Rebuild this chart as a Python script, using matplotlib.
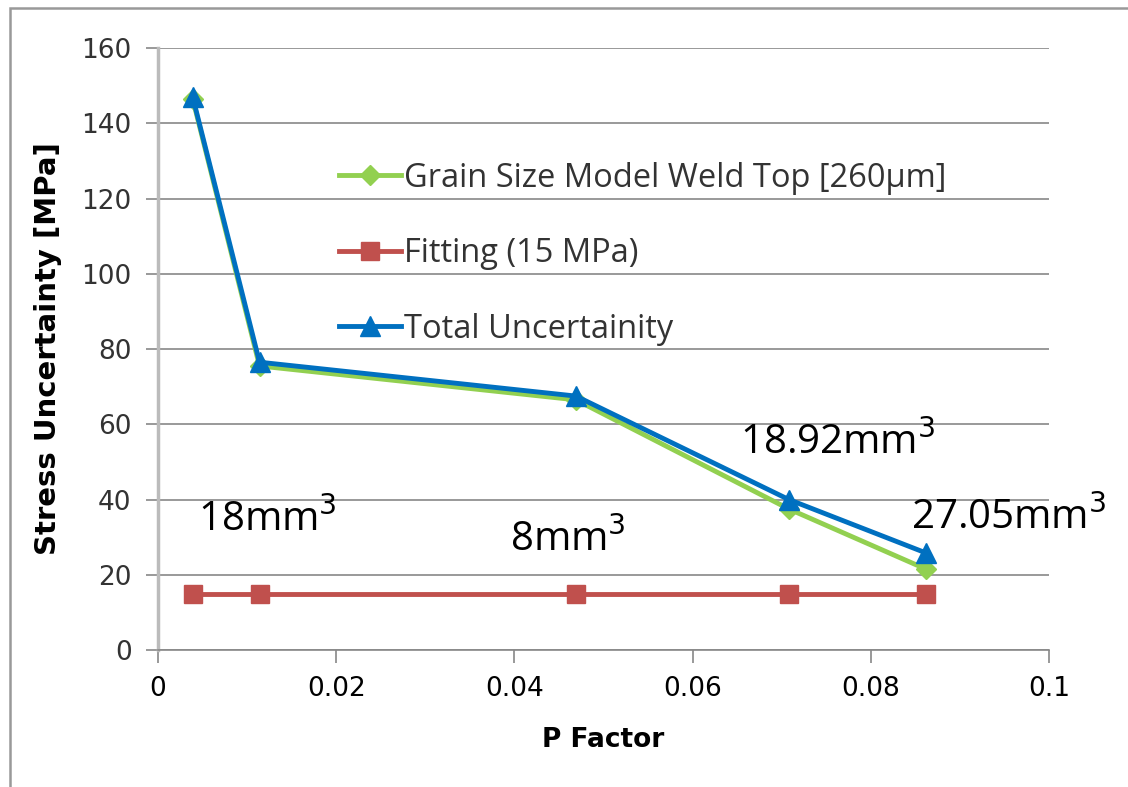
import matplotlib.pyplot as plt
from matplotlib.patches import Rectangle

# values
p_factor = [0.0039, 0.0114, 0.0469, 0.0708, 0.0862]
grain_size = [146.5, 75.5, 66.5, 37.5, 21.5]
fitting = [15, 15, 15, 15, 15]
total = [147.0, 76.5, 67.5, 40.0, 25.8]

volume_labels = ["18mm$^3$", "8mm$^3$", "18.92mm$^3$", "27.05mm$^3$"]
volume_pos = [(0.0045, 34.5), (0.0395, 29), (0.0653, 55), (0.0845, 35)]

y_ticks = [0, 20, 40, 60, 80, 100, 120, 140, 160]
x_ticks = [0, 0.02, 0.04, 0.06, 0.08, 0.1]
x_ticklabels = ["0", "0.02", "0.04", "0.06", "0.08", "0.1"]

fig = plt.figure(figsize=(11.28, 7.87), dpi=100)
ax = fig.add_axes([0.140, 0.174, 0.790, 0.765])

ax.plot(p_factor, grain_size, color="#92D050", lw=3.5, marker="D", ms=10,
        label="Grain Size Model Weld Top [260µm]", zorder=3)
ax.plot(p_factor, fitting, color="#C0504D", lw=3.5, marker="s", ms=13,
        label="Fitting (15 MPa)", zorder=3)
ax.plot(p_factor, total, color="#0070C0", lw=3.5, marker="^", ms=15,
        label="Total Uncertainity", zorder=4)

for txt, (x, y) in zip(volume_labels, volume_pos):
    ax.text(x, y, txt, fontsize=29, family="Open Sans", va="center", ha="left")

ax.set_xlim(0, 0.1)
ax.set_ylim(0, 160)
ax.set_yticks(y_ticks)
ax.set_xticks(x_ticks)
ax.set_xticklabels(x_ticklabels, fontsize=19)
for lab in ax.get_yticklabels():
    lab.set_fontsize(19)
    lab.set_family("DejaVu Sans")
    lab.set_color("#333333")

ax.grid(axis="y", color="#888888", lw=1.2)
ax.set_axisbelow(True)
for s in ["top", "right"]:
    ax.spines[s].set_visible(False)
ax.spines["left"].set_color("#BBBBBB")
ax.spines["left"].set_linewidth(2.5)
ax.spines["bottom"].set_color("#888888")
ax.spines["bottom"].set_linewidth(1.2)
ax.tick_params(axis="both", length=9, color="#888888", width=1.2, pad=10)

ax.set_xlabel("P Factor", fontsize=19, fontweight="bold", labelpad=18)
ax.set_ylabel("Stress Uncertainty [MPa]", fontsize=21, fontweight="bold", labelpad=14)

leg = ax.legend(loc="upper left", bbox_to_anchor=(0.17, 0.86), frameon=False,
                prop={"family": "Open Sans", "size": 23.5}, handlelength=1.9,
                handletextpad=0.1, labelspacing=1.3)
for t in leg.get_texts():
    t.set_color("#333333")

fig.patches.append(Rectangle((0.009, -0.05), 1.2, 1.04, transform=fig.transFigure,
                             fill=False, edgecolor="#999999", lw=1.8))

fig.savefig("out.png", dpi=100)
